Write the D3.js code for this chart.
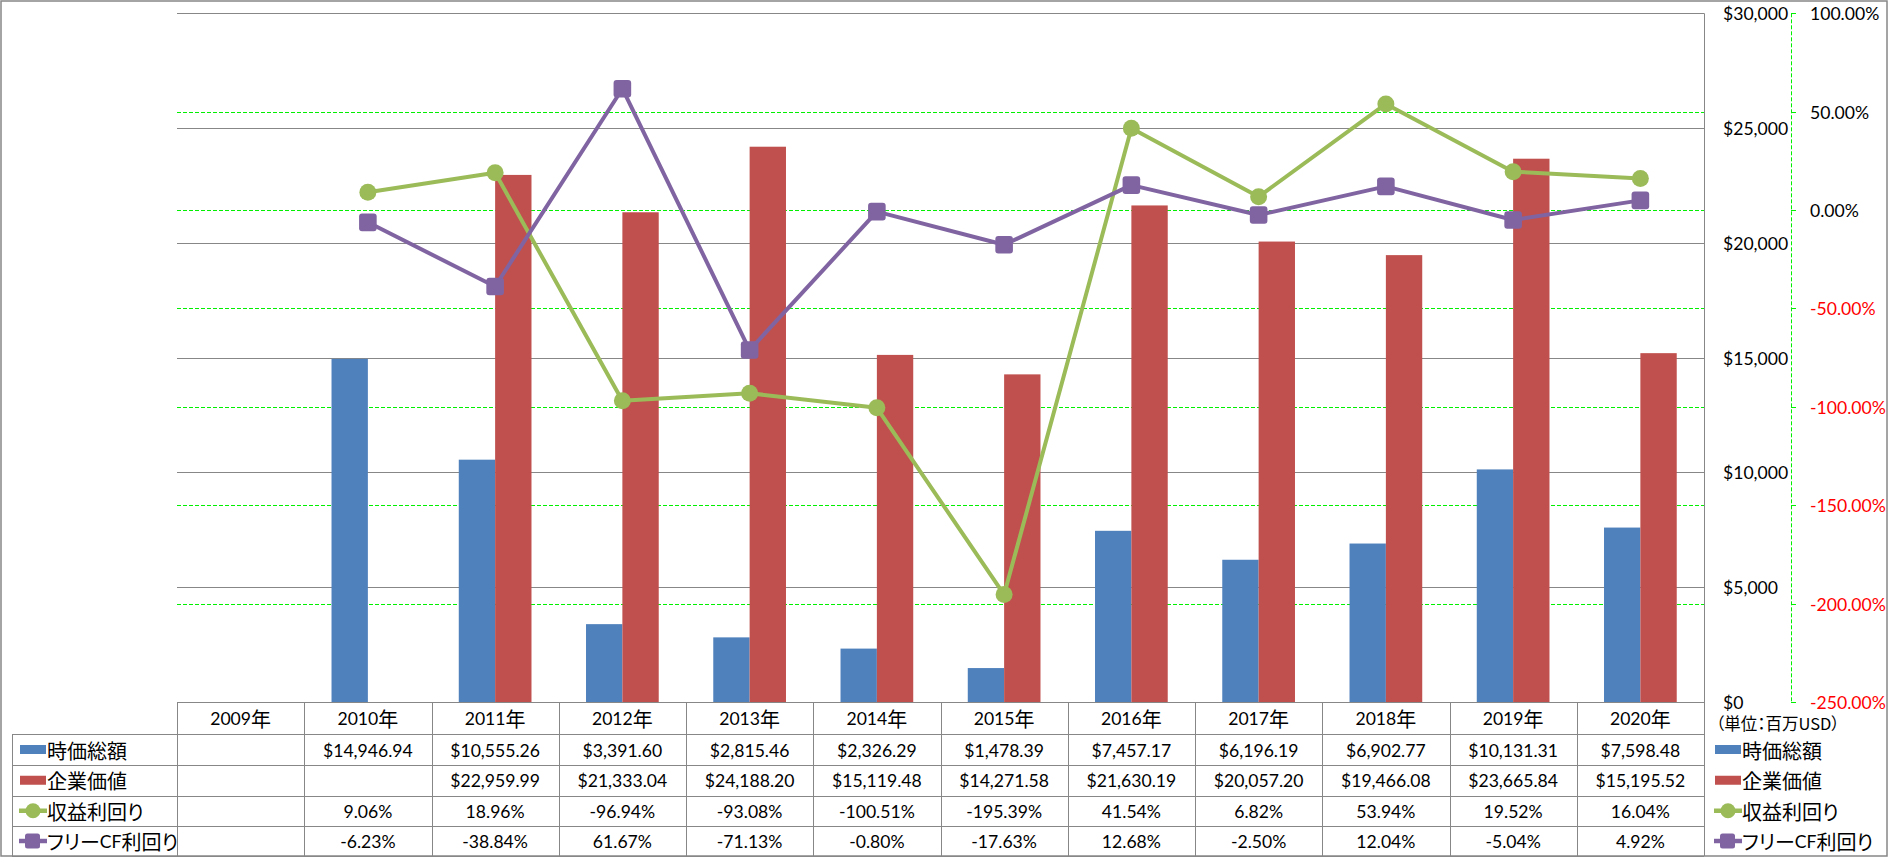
<!DOCTYPE html>
<html><head><meta charset="utf-8">
<script src="https://cdn.jsdelivr.net/npm/d3@7"></script>
<style>
html,body{margin:0;padding:0;background:#fff;}
svg{display:block;}
text{font-family:Lato,"Noto Sans CJK JP",sans-serif;fill:#000;}
.cjk{font-family:"Noto Sans CJK JP",sans-serif;font-feature-settings:"palt";}
</style></head>
<body>
<svg id="chart" width="1889" height="858"></svg>
<script>
// ---- data ----
const years = ["2009年","2010年","2011年","2012年","2013年","2014年","2015年","2016年","2017年","2018年","2019年","2020年"];
const marketCap = [null,14946.94,10555.26,3391.60,2815.46,2326.29,1478.39,7457.17,6196.19,6902.77,10131.31,7598.48];
const enterpriseValue = [null,null,22959.99,21333.04,24188.20,15119.48,14271.58,21630.19,20057.20,19466.08,23665.84,15195.52];
const earningsYield = [null,9.06,18.96,-96.94,-93.08,-100.51,-195.39,41.54,6.82,53.94,19.52,16.04];
const fcfYield = [null,-6.23,-38.84,61.67,-71.13,-0.80,-17.63,12.68,-2.50,12.04,-5.04,4.92];
const seriesNames = ["時価総額","企業価値","収益利回り","フリーCF利回り"];
const leftTicks = [0,5000,10000,15000,20000,25000,30000];
const rightTicks = [-250,-200,-150,-100,-50,0,50,100];
const unitLabel = "（単位：百万USD）";

const colors = {mc:"#4F81BD", ev:"#C0504D", ey:"#9BBB59", fcf:"#8064A2"};
const gridGray = "#878787";
const dashGreen = "#00F000";

const svg = d3.select("#chart");
const X0 = 177, X1 = 1704, YT = 13.3, YB = 702;
const rowY = [734, 765, 795.5, 826, 856];

const x = d3.scaleBand().domain(years).range([X0, X1]).padding(0);
const bw = x.bandwidth();
const w = bw / 3.5;
const xs = d3.scaleBand().domain(["mc","ev"]).range([0.75*w, 2.75*w]).padding(0);
const y1 = d3.scaleLinear().domain([0,30000]).range([YB, YT]);
const y2 = d3.scaleLinear().domain([-250,100]).range([YB, YT]);

function richText(g, str, xPos, yPos, opts) {
  opts = opts || {};
  const t = g.append("text").attr("x", xPos).attr("y", yPos)
    .attr("dominant-baseline","central")
    .attr("text-anchor", opts.anchor || "start");
  if (opts.fill) t.style("fill", opts.fill);
  const re = /[\u3000-\u9fff\uff00-\uffef\u30a0-\u30ff]+|[^\u3000-\u9fff\uff00-\uffef\u30a0-\u30ff]+/g;
  (str.match(re) || []).forEach(run => {
    const isCjk = /[\u3000-\u9fff\uff00-\uffef\u30a0-\u30ff]/.test(run);
    const ts = t.append("tspan").text(run);
    if (isCjk || opts.allCjk) ts.attr("class","cjk").style("font-size", (opts.cjkSize||20)+"px");
    else ts.style("font-size", (opts.size||17.6)+"px");
    if (opts.fill) ts.style("fill", opts.fill);
  });
  return t;
}

// outer border
svg.append("rect").attr("x",1).attr("y",1).attr("width",1886).attr("height",855)
  .attr("fill","none").attr("stroke",gridGray).attr("stroke-width",1.5);

// gray gridlines (primary)
svg.append("g").selectAll("line").data(leftTicks).join("line")
  .attr("x1",X0).attr("x2",X1)
  .attr("y1",d=>Math.round(y1(d))+0.5).attr("y2",d=>Math.round(y1(d))+0.5)
  .attr("stroke",gridGray).attr("stroke-width",1);

// green dashed gridlines (secondary)
svg.append("g").selectAll("line").data(rightTicks.filter(d=>d>-250 && d<100)).join("line")
  .attr("x1",X0).attr("x2",X1)
  .attr("y1",d=>Math.round(y2(d))+0.5).attr("y2",d=>Math.round(y2(d))+0.5)
  .attr("stroke",dashGreen).attr("stroke-width",1).attr("stroke-dasharray","4,2");

// bars
const barG = svg.append("g");
years.forEach((yr,i) => {
  [["mc",marketCap[i]],["ev",enterpriseValue[i]]].forEach(([k,v]) => {
    if (v == null) return;
    barG.append("rect")
      .attr("x", x(yr) + xs(k)).attr("width", xs.bandwidth())
      .attr("y", y1(v)).attr("height", y1(0) - y1(v))
      .attr("fill", colors[k]);
  });
});

// lines
function drawLine(vals, color, marker) {
  const pts = years.map((yr,i)=>({x:x(yr)+bw/2, v:vals[i]})).filter(d=>d.v!=null);
  svg.append("path").datum(pts)
    .attr("d", d3.line().x(d=>d.x).y(d=>y2(d.v)))
    .attr("fill","none").attr("stroke",color).attr("stroke-width",4).attr("stroke-linejoin","round");
  const g = svg.append("g");
  if (marker === "circle") {
    g.selectAll("circle").data(pts).join("circle")
      .attr("cx",d=>d.x).attr("cy",d=>y2(d.v)).attr("r",8.5).attr("fill",color);
  } else {
    g.selectAll("rect").data(pts).join("rect")
      .attr("x",d=>d.x-8.8).attr("y",d=>y2(d.v)-8.8).attr("width",17.6).attr("height",17.6)
      .attr("rx",3).attr("fill",color);
  }
}
drawLine(earningsYield, colors.ey, "circle");
drawLine(fcfYield, colors.fcf, "square");

// right primary axis line (vertical gray) and labels
svg.append("line").attr("x1",1704.5).attr("x2",1704.5).attr("y1",YT).attr("y2",856)
  .attr("stroke",gridGray).attr("stroke-width",1);
const fmtDollar = d3.format("$,.0f");
const lab1 = svg.append("g");
leftTicks.forEach(t => richText(lab1, fmtDollar(t), 1723, y1(t)));

// secondary axis
const ax2 = svg.append("g");
ax2.append("line").attr("x1",1791.5).attr("x2",1791.5).attr("y1",YT).attr("y2",YB)
  .attr("stroke",dashGreen).attr("stroke-width",1).attr("stroke-dasharray","4,2");
ax2.selectAll("line.tk").data(rightTicks).join("line").attr("class","tk")
  .attr("x1",1791).attr("x2",1796)
  .attr("y1",d=>Math.round(y2(d))+0.5).attr("y2",d=>Math.round(y2(d))+0.5)
  .attr("stroke",dashGreen).attr("stroke-width",1);
rightTicks.forEach(t => richText(ax2, t.toFixed(2)+"%", 1810, y2(t), {fill: t<0 ? "#FF0000" : "#000"}));

// unit label
richText(svg, unitLabel, 1716, 723, {allCjk:true, cjkSize:16.5});

// ---- data table ----
const tbl = svg.append("g");
tbl.selectAll("line.h").data(rowY).join("line").attr("class","h")
  .attr("x1",12).attr("x2",X1)
  .attr("y1",d=>Math.round(d)+0.5).attr("y2",d=>Math.round(d)+0.5)
  .attr("stroke",gridGray).attr("stroke-width",1);
const bounds = years.map(yr=>x(yr)).concat([X1]);
tbl.selectAll("line.v").data(bounds).join("line").attr("class","v")
  .attr("x1",d=>Math.round(d)+0.5).attr("x2",d=>Math.round(d)+0.5)
  .attr("y1",YB).attr("y2",856)
  .attr("stroke",gridGray).attr("stroke-width",1);
tbl.append("line").attr("x1",12.5).attr("x2",12.5).attr("y1",rowY[0]).attr("y2",856)
  .attr("stroke",gridGray).attr("stroke-width",1);

years.forEach(yr => richText(tbl, yr, x(yr)+bw/2, 718, {anchor:"middle"}));
const fmtMoney = d3.format("$,.2f");
const rows = [
  marketCap.map(v=>v==null?"":fmtMoney(v)),
  enterpriseValue.map(v=>v==null?"":fmtMoney(v)),
  earningsYield.map(v=>v==null?"":v.toFixed(2)+"%"),
  fcfYield.map(v=>v==null?"":v.toFixed(2)+"%")
];
rows.forEach((r,ri) => {
  const cy = (rowY[ri]+rowY[ri+1])/2;
  r.forEach((s,ci) => { if (s) richText(tbl, s, x(years[ci])+bw/2, cy, {anchor:"middle"}); });
});

function legendKey(g, kx, cy, idx) {
  const keys = ["mc","ev","ey","fcf"];
  const c = colors[keys[idx]];
  if (idx < 2) {
    g.append("rect").attr("x",kx).attr("y",cy-4.5).attr("width",26).attr("height",9).attr("fill",c);
  } else {
    g.append("line").attr("x1",kx-1).attr("x2",kx+27).attr("y1",cy).attr("y2",cy)
      .attr("stroke",c).attr("stroke-width",4.5);
    if (idx === 2) g.append("circle").attr("cx",kx+13).attr("cy",cy).attr("r",7.5).attr("fill",c);
    else g.append("rect").attr("x",kx+5).attr("y",cy-7.5).attr("width",15).attr("height",15).attr("rx",2.5).attr("fill",c);
  }
}
const lg = svg.append("g");
seriesNames.forEach((nm,i) => {
  const cy = (rowY[i]+rowY[i+1])/2;
  legendKey(lg, 20, cy, i);
  richText(lg, nm, 47, cy);
  legendKey(lg, 1715, cy, i);
  richText(lg, nm, 1742, cy);
});
</script>
</body></html>
